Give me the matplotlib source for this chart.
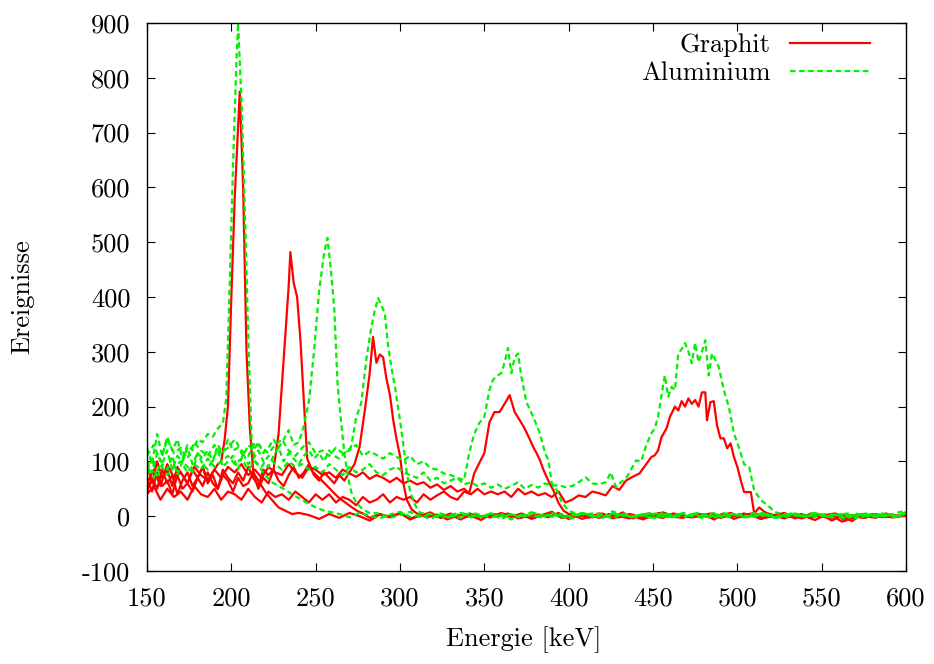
import matplotlib
matplotlib.use('Agg')
import matplotlib.pyplot as plt

plt.rcParams['font.family'] = 'cmr10'
plt.rcParams['mathtext.fontset'] = 'cm'
plt.rcParams['axes.unicode_minus'] = False
plt.rcParams['axes.formatter.use_mathtext'] = True
plt.rcParams['font.size'] = 19

# Graphit spectra (one per scattering angle), energy in keV, counts
g205_e = list(range(150, 195, 3)) + [194, 196, 198, 200, 202, 205, 207, 209, 211, 213, 216, 220, 224, 228, 232, 236, 240] + list(range(246, 601, 6))
g205_n = [95, 60, 100, 70, 85, 55, 90, 75, 60, 85, 70, 90, 65, 80, 95,
          100, 139, 200, 400, 580, 775, 600, 300, 160, 80, 65, 45, 30, 16, 10, 4, 6,
          2, -5, 4, -3, 6, 0, -8, 3, -2, 5, -4, 1, 7, -3, 2, -6, 4, 0, -2, 6,
          -1, 3, -5, 2, 8, -3, 0, 4, -2, 5, -4, 1, 3, -6, 2, 7, -1, -3, 4, 0,
          -2, 5, -5, 2, 6, -3, 1, -4, 3, 0, -7, 2, 5, -2, 1, -3, 4, 0, -1, 2]

g235_e = list(range(150, 226, 3)) + [228, 230, 232, 234, 235, 237, 239, 241, 243, 245, 248, 252, 256, 260, 264, 268, 272, 275, 278] + list(range(282, 601, 6))
g235_n = [45, 70, 50, 85, 60, 75, 40, 65, 80, 55, 70, 90, 60, 75, 50, 85, 70, 60, 80, 65, 90, 70, 55, 85, 75, 85,
          150, 240, 330, 420, 482, 425, 400, 320, 210, 105, 82, 70, 58, 45, 33, 24, 15, 9, 5,
          -3, 4, -1, 6, -6, 2, 3, -2, 5, -4, 1, -7, 4, 2, -1, 5, -3, 0, 6, -2,
          3, -5, 1, 4, -2, 7, -4, 2, 0, -3, 5, 1, -2, 4, -6, 3, 0, 5, -1, -3,
          2, 6, -4, 1, 3, -2, 4, -8, 2, 0, -3, 5, -1, 2]

g287_e = list(range(150, 271, 3)) + [273, 276, 279, 282, 284, 286, 288, 290, 292, 294, 296, 298, 300, 302, 304, 307, 310] + list(range(316, 599, 6)) + [600]
g287_n = [70, 45, 80, 55, 65, 40, 75, 50, 60, 45, 70, 55, 80, 60, 50, 75, 65, 45, 70, 55,
          60, 80, 50, 70, 60, 85, 65, 55, 75, 90, 70, 80, 95, 75, 65, 80, 70, 60, 75, 65, 80,
          95, 126, 190, 260, 327, 280, 295, 290, 250, 222, 175, 140, 110, 60, 30, 12, 5,
          -2, 3, -6, 1, 4, -3, 2, -1, 5, -4, 0, 3, -2, 6, -5, 1, 2, -3, 4, 0,
          -4, 2, 5, -1, 3, -2, 0, 4, -3, 1, 6, -2, 2, -5, 3, 0, -1, 4, -2, 3,
          -8, 1, 2, -3, 4, 0, -2, 3, 1]

g365_e = list(range(150, 339, 4)) + [341, 344, 347, 350, 353, 356, 359, 362, 365, 368, 371, 373, 375, 377, 379, 381, 383, 385, 387, 389, 391, 394, 397, 400] + list(range(406, 601, 6))
g365_n = [60, 85, 55, 95, 70, 80, 60, 90, 75, 65, 85, 70, 90, 80, 95, 75, 85, 70, 90, 80,
          75, 95, 80, 70, 90, 85, 75, 80, 70, 85, 78, 72, 80, 68, 75, 70, 62, 70, 60, 65,
          58, 62, 52, 58, 48, 55, 45, 50,
          42, 78, 97, 115, 171, 190, 190, 205, 221, 190, 175, 165, 153, 140, 126, 115, 102, 85, 71, 58, 47, 24, 10, 4,
          2, -3, 5, 0, -2, 4, -4, 1, 6, -1, 3, -2, 0, 5, -3, 2, -1, 4, -5, 1,
          3, 0, -2, 5, -1, 2, -10, -4, 1, 3, -2, 2, 0]

g478_e = list(range(150, 447, 4)) + [449, 451, 453, 455, 458, 460, 463, 465, 467, 469, 471, 473, 475, 477, 479, 481, 482, 484, 486, 488,
                                      490, 492, 494, 496, 498, 500, 502, 504, 506, 508, 510, 513, 516, 520] + list(range(526, 599, 6)) + [600]
g478_n = [40, 55, 30, 50, 35, 45, 30, 55, 40, 35, 50, 30, 45,
          40, 30, 50, 35, 25, 45, 35, 40, 30, 45, 35, 25, 40,
          30, 40, 25, 35, 30, 20, 35, 25, 30, 40, 25, 35, 30,
          35, 25, 40, 30, 38, 45, 35, 30, 45, 40, 50, 40, 45,
          40, 45, 35, 50, 40, 45, 38, 42, 35, 45, 25, 30, 38,
          35, 45, 42, 38, 55, 48, 65, 72, 78, 95,
          108, 111, 120, 144, 160, 181, 200, 193, 210, 200, 215, 205, 212, 200, 226, 226, 175, 208, 210, 165,
          142, 142, 124, 133, 108, 90, 66, 44, 44, 44, 5, 16, 8, 3,
          -2, 3, -4, 1, 2, -3, 0, -9, 4, -1, 2, -2, 1, 0]

# Aluminium spectra
a205_e = list(range(150, 196, 3)) + [197, 199, 201, 203, 204, 206, 208, 210, 212, 214, 217, 220, 224, 228, 232, 236, 240, 245, 250, 255, 260] + list(range(264, 601, 6))
a205_n = [125, 95, 150, 110, 145, 120, 140, 105, 130, 120, 140, 135, 150, 145, 160, 170,
          215, 420, 640, 830, 900, 760, 560, 330, 140, 100, 88, 75, 62, 55, 48, 40, 33, 24, 16, 10, 7,
          4, -2, 6, 1, -4, 3, 8, -1, 2, -5, 5, 0, -3, 7, 2, -2, 4, -6, 3, 1,
          -2, 6, 0, -4, 5, 2, -3, 9, 1, -2, 3, -5, 4, 0, 6, -1, 2, -4, 5, 3,
          -2, 1, 7, -3, 0, 4, -1, 6, -2, 3, 0, -4, 5, 2, -1, 6, 10]

a257_e = list(range(150, 244, 3)) + [246, 249, 252, 255, 257, 259, 261, 263, 265, 267, 269, 271, 274, 278, 282] + list(range(288, 601, 6))
a257_n = [100, 80, 115, 95, 120, 85, 110, 100, 125, 95, 115, 105, 120, 100, 130, 115, 140, 120, 125, 110,
          130, 120, 135, 115, 125, 140, 125, 140, 157, 130, 135, 165,
          210, 300, 410, 480, 508, 450, 380, 240, 175, 115, 75, 45, 25, 12, 6,
          5, -3, 2, 8, -1, 4, -4, 3, 6, -2, 0, 5, -5, 3, 1, 7, -2, 4, -3, 2,
          6, -1, 3, -4, 5, 0, 2, -3, 7, 1, -2, 4, 0, 6, -4, 3, 1, -1, 5, -3,
          2, 4, -2, 6, 0, 3, -5, 2, 4, -1, 3, 0, 5]

a287_e = list(range(150, 268, 3)) + [271, 274, 277, 280, 283, 285, 287, 289, 291, 293, 295, 297, 300, 302, 304, 306, 309, 312] + list(range(318, 601, 6))
a287_n = [80, 105, 70, 95, 85, 110, 75, 100, 90, 80, 115, 95, 85, 105, 120, 90, 100, 110, 85, 115,
          95, 105, 120, 100, 90, 110, 125, 100, 115, 105, 95, 110, 120, 105, 115, 100, 120, 110, 105, 115,
          126, 180, 206, 285, 345, 375, 398, 385, 370, 310, 270, 236, 175, 130, 80, 45, 20, 6,
          4, 1, -3, 6, 2, -2, 5, 0, 3, -4, 7, 2, -1, 4, -2, 6, 1, -3, 5, 2,
          -1, 3, 6, 0, -2, 5, 2, -4, 4, 1, 3, -2, 6, 0, 2, -3, 5, 1, -1, 4,
          2, -2, 5, 0, 3, 1, -2, 8]

a365_e = list(range(150, 339, 4)) + [341, 344, 347, 350, 353, 355, 357, 360, 362, 364, 366, 368, 370, 372, 375, 379, 383, 386, 388, 390, 393, 396, 400, 404] + list(range(410, 599, 6)) + [600]
a365_n = [110, 130, 100, 140, 115, 125, 105, 135, 120, 110, 130, 115, 125, 140, 120, 110, 135, 125, 115, 130,
          140, 120, 110, 125, 135, 115, 120, 110, 125, 115, 120, 130, 110, 118, 112, 105, 115, 108, 102, 110,
          95, 100, 88, 85, 78, 75, 70, 66,
          115, 150, 170, 181, 230, 248, 255, 261, 280, 307, 261, 290, 297, 254, 208, 181, 151, 115, 102, 60, 47, 25, 10, 5,
          3, 6, -1, 4, 1, -2, 5, 2, -3, 4, 0, 6, 2, -1, 3, 5, -2, 4, 1, -3,
          6, 2, 0, 4, -1, 3, 5, -2, 2, 1, 4, 0, 8]

a470_e = list(range(150, 395, 4)) + [398, 402, 406, 410, 414, 418, 422, 425, 428, 431, 434, 437, 440, 443, 446, 449, 451, 453, 455, 457,
                                      459, 461, 463, 465, 467, 469, 471, 473, 475, 477, 479, 481, 483, 485, 487, 489, 492, 495, 498, 501,
                                      504, 507, 510, 514, 518, 522, 526] + list(range(532, 599, 6)) + [600]
a470_n = [85, 70, 95, 75, 90, 100, 80, 95, 85, 105, 90, 100, 110,
          95, 105, 85, 100, 90, 110, 95, 85, 100, 90, 95, 85, 90,
          80, 95, 85, 75, 90, 80, 85, 95, 80, 75, 85, 90, 80,
          75, 70, 80, 65, 70, 60, 65, 70, 58, 62, 55, 60, 52,
          58, 50, 55, 62, 50, 57, 52, 60, 55, 57,
          53, 55, 62, 71, 60, 58, 62, 80, 53, 62, 69, 85, 102, 100, 130, 151, 160, 181, 220, 257,
          218, 236, 230, 297, 305, 316, 300, 279, 316, 281, 300, 321, 257, 297, 285, 272, 230, 199, 151, 125,
          95, 90, 47, 29, 20, 8, 4,
          3, -1, 5, 2, -2, 4, 0, 3, -3, 5, 1, 2, 6]

graphit = [(g205_e, g205_n), (g235_e, g235_n), (g287_e, g287_n), (g365_e, g365_n), (g478_e, g478_n)]
aluminium = [(a205_e, a205_n), (a257_e, a257_n), (a287_e, a287_n), (a365_e, a365_n), (a470_e, a470_n)]

red = '#ff0000'
green = '#00f000'

fig = plt.figure(figsize=(9.34, 6.64), dpi=100)
ax = fig.add_axes([147 / 934, 93 / 664, 759 / 934, 548 / 664])

for i, (e, n) in enumerate(graphit):
    ax.plot(e, n, color=red, lw=1.6, label='Graphit' if i == 0 else None)
for i, (e, n) in enumerate(aluminium):
    ax.plot(e, n, color=green, lw=1.6, dashes=(2.5, 1.6), label='Aluminium' if i == 0 else None)

ax.set_xlim(150, 600)
ax.set_ylim(-100, 900)
ax.set_xticks(range(150, 601, 50))
ax.set_yticks(range(-100, 901, 100))
ax.set_xticklabels([str(v) for v in range(150, 601, 50)])
ax.set_yticklabels([str(v) for v in range(-100, 901, 100)])
ax.tick_params(direction='in', length=6, width=0.8, top=True, right=True)
ax.tick_params(axis='x', pad=11)
ax.tick_params(axis='y', pad=12)
for s in ax.spines.values():
    s.set_linewidth(1.0)

fig.text(524 / 934, 1 - 640 / 664, 'Energie [keV]', ha='center', va='center')
fig.text(22 / 934, 1 - 297 / 664, 'Ereignisse', ha='center', va='center', rotation=90)

ax.legend(loc='upper right', frameon=False, markerfirst=False, handlelength=3.0,
          handletextpad=0.75, labelspacing=0.17, borderaxespad=0.3,
          bbox_to_anchor=(1 - 18 / 759, 1 + 8 / 548))

fig.savefig('out.png', dpi=100)
